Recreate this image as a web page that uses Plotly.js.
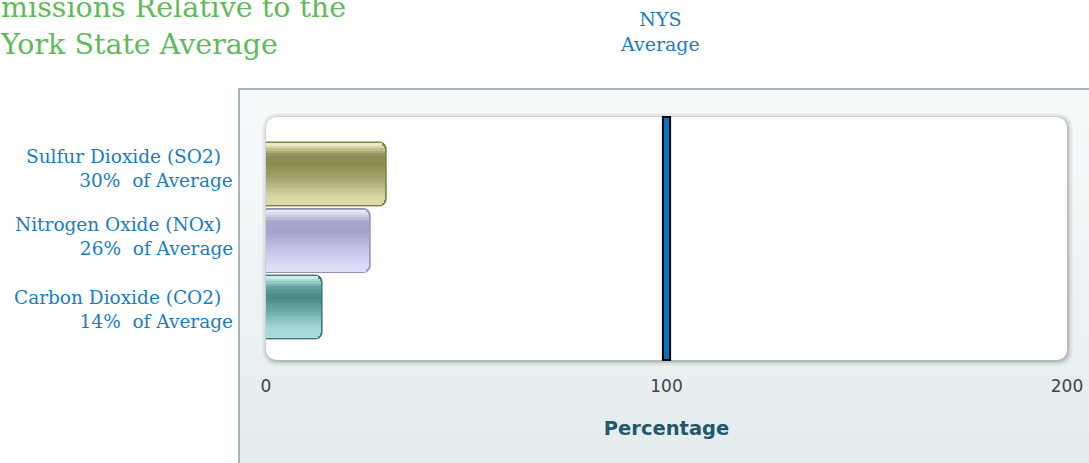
<!DOCTYPE html>
<html>
<head>
<meta charset="utf-8">
<script src="https://cdn.plot.ly/plotly-3.0.1.min.js"></script>
<style>html,body{margin:0;padding:0;background:#fff;overflow:hidden}#chart{width:1089px;height:463px}</style>
</head>
<body>
<div id="chart"></div>
<script>
// ---- data ----
const pollutants = ['Sulfur Dioxide (SO2)', 'Nitrogen Oxide (NOx)', 'Carbon Dioxide (CO2)'];
const pctOfAverage = [30, 26, 14];
const nysAverage = 100;
const xTickVals = [0, 100, 200];
const xTickText = ['0', '100', '200'];
const titleLines = ['missions Relative to the', 'York State Average'];
const avgLabel = ['NYS', 'Average'];
const xTitle = 'Percentage';

// ---- styling ----
const W = 1089, H = 463;
const M = {l: 266, r: 22, t: 117, b: 103};
const PW = W - M.l - M.r, PH = H - M.t - M.b;
const X_RANGE = [0, 200];
const Y_RANGE = [2.797, -0.857];
const pxX = p => (p - M.l) / PW;          // page px -> paper x
const pxY = p => (M.t + PH - p) / PH;     // page px -> paper y
const unitsPerPx = (X_RANGE[1] - X_RANGE[0]) / PW;
const blue = '#1a7cc1';
const serif = 'DejaVu Serif, serif';
const labelShift = [5, 4, -2];   // px, vertical nudge of category labels

const gradStops = [
  [[0,'#f4f4d8'],[0.06,'#d6d6a6'],[0.2,'#8e8e56'],[0.35,'#8a8a50'],[0.6,'#a9a975'],[0.85,'#d6d6a2'],[1,'#dcdcaa']],
  [[0,'#f4f4fc'],[0.06,'#dcdcf0'],[0.2,'#a6a6cc'],[0.35,'#a2a2cc'],[0.6,'#bebee4'],[0.85,'#d8d8f6'],[1,'#dedef8']],
  [[0,'#dcf6f4'],[0.06,'#a8dcd8'],[0.2,'#5c9c98'],[0.35,'#4a8884'],[0.6,'#70b0ae'],[0.85,'#a4dad8'],[1,'#aadede']]
];
const outlineCols = ['#777740', '#8c8cb4', '#3c6e6c'];

function hex2rgb(h){return [1,3,5].map(i=>parseInt(h.substr(i,2),16));}
function interp(stops, t){
  for (let i=1;i<stops.length;i++){
    if (t<=stops[i][0]){
      const a=stops[i-1], b=stops[i];
      const f=(t-a[0])/(b[0]-a[0]);
      const ca=hex2rgb(a[1]), cb=hex2rgb(b[1]);
      const c=ca.map((v,j)=>Math.round(v+(cb[j]-v)*f));
      return 'rgb('+c.join(',')+')';
    }
  }
  return stops[stops.length-1][1];
}

const BW = 0.96;          // bar thickness (category units)
const RADIUS = 7;         // px
const barPx = BW * (PH / Math.abs(Y_RANGE[0]-Y_RANGE[1]));

const traces = [];
// base bar (rounded end, outline)
traces.push({
  type: 'bar', orientation: 'h', y: pollutants, x: pctOfAverage,
  width: BW, hoverinfo: 'skip',
  marker: {color: gradStops.map(s => interp(s, 0.35)), line: {color: outlineCols, width: 1}, cornerradius: RADIUS}
});
// gradient bands
const N = 24;
const inner = BW * 0.97;
for (let k = 0; k < N; k++){
  const t = (k + 0.5) / N;
  const dyPx = Math.min(t, 1 - t) * barPx;
  let insetPx = 1.5;
  if (dyPx < RADIUS) insetPx += RADIUS - Math.sqrt(RADIUS*RADIUS - (RADIUS - dyPx)*(RADIUS - dyPx));
  traces.push({
    type: 'bar', orientation: 'h', y: pollutants,
    x: pctOfAverage.map(v => v - insetPx * unitsPerPx),
    width: inner / N + 0.004, offset: -inner/2 + k*inner/N,
    hoverinfo: 'skip',
    marker: {color: gradStops.map(s => interp(s, t)), line: {width: 0}}
  });
}

function roundRect(x0, y0, x1, y1, r){
  const X = pxX, Y = pxY;
  return 'M'+X(x0+r)+','+Y(y0)+' L'+X(x1-r)+','+Y(y0)+' Q'+X(x1)+','+Y(y0)+' '+X(x1)+','+Y(y0+r)+
    ' L'+X(x1)+','+Y(y1-r)+' Q'+X(x1)+','+Y(y1)+' '+X(x1-r)+','+Y(y1)+
    ' L'+X(x0+r)+','+Y(y1)+' Q'+X(x0)+','+Y(y1)+' '+X(x0)+','+Y(y1-r)+
    ' L'+X(x0)+','+Y(y0+r)+' Q'+X(x0)+','+Y(y0)+' '+X(x0+r)+','+Y(y0)+' Z';
}

const shapes = [];
// panel gradient
const panelTop = 88, panelBot = 470, panelL = 238, panelR = 1100;
const nb = 20;
for (let i = 0; i < nb; i++){
  const y0 = panelTop + (panelBot-panelTop)*i/nb, y1 = panelTop + (panelBot-panelTop)*(i+1)/nb + 0.5;
  shapes.push({type:'rect', xref:'paper', yref:'paper', layer:'below',
    x0: pxX(panelL), x1: pxX(panelR), y0: pxY(y1), y1: pxY(y0),
    fillcolor: interp([[0,'#f8fbfc'],[1,'#e3ecee']], (i+0.5)/nb), line:{width:0}});
}
shapes.push({type:'line', xref:'paper', yref:'paper', layer:'below', x0:pxX(panelL+1), x1:pxX(panelL+1), y0:pxY(panelTop), y1:pxY(panelBot), line:{color:'#a7b6bd', width:2}});
shapes.push({type:'line', xref:'paper', yref:'paper', layer:'below', x0:pxX(panelL), x1:pxX(panelR), y0:pxY(panelTop+1), y1:pxY(panelTop+1), line:{color:'#a7b6bd', width:2}});
// inner box shadow + box
const bx0 = M.l, bx1 = M.l + PW, by0 = M.t, by1 = M.t + PH;
[[5,0.05],[3.5,0.07],[2,0.1],[1,0.14]].forEach(([e,a]) => {
  shapes.push({type:'path', xref:'paper', yref:'paper', layer:'below',
    path: roundRect(bx0-e+1, by0-e+1, bx1+e+1, by1+e+1, 12+e), fillcolor:'rgba(80,80,80,'+a+')', line:{width:0}});
});
shapes.push({type:'path', xref:'paper', yref:'paper', layer:'below',
  path: roundRect(bx0, by0, bx1, by1, 12), fillcolor:'#ffffff', line:{width:0}});
// NYS average marker
shapes.push({type:'rect', xref:'x', yref:'paper', layer:'above',
  x0: nysAverage - 0.9, x1: nysAverage + 0.9, y0: 0, y1: 1,
  fillcolor:'#0a72c2', line:{color:'#000000', width:2}});

const annotations = [
  {xref:'paper', yref:'paper', x: pxX(-2), y: pxY(26), xanchor:'left', yanchor:'middle', showarrow:false, align:'left',
   text: titleLines.join('<br>'), font:{family:serif, size:28.5, color:'#5fbb5a'}},
  {xref:'x', yref:'paper', x: nysAverage, xshift: -7, y: pxY(32), xanchor:'center', yanchor:'middle', showarrow:false,
   text: avgLabel.join('<br>'), font:{family:serif, size:19, color:blue}}
];
// category labels
pollutants.forEach((p, i) => {
  annotations.push({xref:'paper', yref:'y', x: pxX(235), y: p, yshift: labelShift[i], xanchor:'right', yanchor:'middle',
    showarrow:false, align:'right',
    text: p + '\u00a0\u00a0<br>' + pctOfAverage[i] + '%\u00a0\u00a0of Average',
    font:{family:serif, size:18.5, color:blue}});
});

const layout = {
  width: W, height: H,
  margin: {l: M.l, r: M.r, t: M.t, b: M.b, pad: 0},
  paper_bgcolor: '#ffffff', plot_bgcolor: 'rgba(0,0,0,0)',
  showlegend: false, barmode: 'overlay', bargap: 0,
  xaxis: {range: X_RANGE, tickvals: xTickVals, ticktext: xTickText, showgrid: false, zeroline: false, showline: false,
    ticks: 'outside', ticklen: 11, tickcolor: 'rgba(0,0,0,0)', fixedrange: true,
    tickfont: {family: 'DejaVu Sans, sans-serif', size: 17, color: '#38474d'},
    title: {text: xTitle, standoff: 25, font: {family: 'DejaVu Sans, sans-serif', size: 19.5, color: '#22586a', weight: 'bold'}}},
  yaxis: {type: 'category', categoryarray: pollutants, range: Y_RANGE, showticklabels: false,
    showgrid: false, zeroline: false, showline: false, ticks: '', fixedrange: true},
  shapes: shapes, annotations: annotations
};

Plotly.newPlot('chart', traces, layout, {displayModeBar: false, staticPlot: true});
</script>
</body>
</html>
